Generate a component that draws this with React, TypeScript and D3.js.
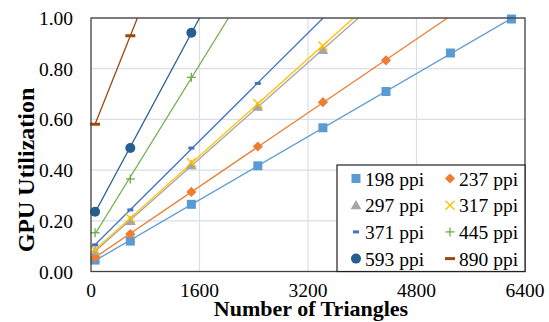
import React from "react";
import * as d3 from "d3";

// x positions (number of triangles)
const triangles = [60, 580, 1480, 2460, 3420, 4350, 5300, 6200];

const series = [
  { name: "198 ppi", color: "#5B9BD5", marker: "square", values: [0.045, 0.12, 0.265, 0.417, 0.567, 0.71, 0.862, 0.996] },
  { name: "237 ppi", color: "#ED7D31", marker: "diamond", values: [0.056, 0.148, 0.314, 0.493, 0.668, 0.833] },
  { name: "297 ppi", color: "#A5A5A5", marker: "triangle", values: [0.08, 0.2, 0.42, 0.65, 0.874] },
  { name: "317 ppi", color: "#FFC000", marker: "x", values: [0.085, 0.21, 0.43, 0.662, 0.89] },
  { name: "371 ppi", color: "#4472C4", marker: "dash", values: [0.105, 0.243, 0.487, 0.742] },
  { name: "445 ppi", color: "#70AD47", marker: "plus", values: [0.153, 0.365, 0.766] },
  { name: "593 ppi", color: "#255E91", marker: "circle", values: [0.236, 0.487, 0.942] },
  { name: "890 ppi", color: "#9E480E", marker: "longdash", values: [0.581, 0.93] },
];

const xTicks = [0, 1600, 3200, 4800, 6400];
const yTicks = [0, 0.2, 0.4, 0.6, 0.8, 1.0];

const W = 549;
const H = 322;
const plot = { left: 91, right: 525, top: 18, bottom: 271.5 };
const font = "Liberation Serif, Times New Roman, DejaVu Serif, serif";

const x = d3.scaleLinear().domain([0, 6400]).range([plot.left, plot.right]);
const y = d3.scaleLinear().domain([0, 1]).range([plot.bottom, plot.top]);

function Marker({ type, color, cx, cy }: { type: string; color: string; cx: number; cy: number }) {
  switch (type) {
    case "square":
      return <rect x={cx - 4.5} y={cy - 4.5} width={9} height={9} fill={color} />;
    case "diamond":
      return <rect x={cx - 3.6} y={cy - 3.6} width={7.2} height={7.2} fill={color} transform={`rotate(45 ${cx} ${cy})`} />;
    case "triangle":
      return <path d={d3.symbol(d3.symbolTriangle, 50)()!} transform={`translate(${cx},${cy + 1})`} fill={color} />;
    case "x":
      return (
        <g stroke={color} strokeWidth={1.4}>
          <line x1={cx - 4.5} y1={cy - 4.5} x2={cx + 4.5} y2={cy + 4.5} />
          <line x1={cx - 4.5} y1={cy + 4.5} x2={cx + 4.5} y2={cy - 4.5} />
        </g>
      );
    case "plus":
      return (
        <g stroke={color} strokeWidth={1.3}>
          <line x1={cx - 4.5} y1={cy} x2={cx + 4.5} y2={cy} />
          <line x1={cx} y1={cy - 4.5} x2={cx} y2={cy + 4.5} />
        </g>
      );
    case "dash":
      return <rect x={cx - 3} y={cy - 1.5} width={6} height={3} fill={color} />;
    case "longdash":
      return <rect x={cx - 5} y={cy - 1.5} width={10} height={3} fill={color} />;
    case "circle":
      return <circle cx={cx} cy={cy} r={5} fill={color} />;
    default:
      return null;
  }
}

// least-squares trendline, drawn from the first point up to where it reaches 1.0
function trend(vals: number[]) {
  const xs = triangles.slice(0, vals.length);
  const mx = d3.mean(xs)!;
  const my = d3.mean(vals)!;
  const slope = d3.sum(xs, (v, i) => (v - mx) * (vals[i] - my)) / d3.sum(xs, (v) => (v - mx) ** 2);
  const b = my - slope * mx;
  const x0 = xs[0];
  const x1 = Math.min(Math.max((1 - b) / slope, xs[xs.length - 1]), 6400);
  return [
    [x(x0), y(slope * x0 + b)],
    [x(x1), y(Math.min(1, slope * x1 + b))],
  ];
}

export default function App() {
  const legendX = 337;
  const legendY = 165;
  const rowH = 26.7;
  const tf = { fontFamily: font };
  return (
    <svg width={W} height={H} style={{ position: "absolute", left: 0, top: 0 }}>
      <rect width={W} height={H} fill="#fff" />
      {/* gridlines */}
      {yTicks.slice(1).map((t) => (
        <line key={"gy" + t} x1={plot.left} x2={plot.right} y1={y(t)} y2={y(t)} stroke="#D9DEE8" strokeWidth={1.2} />
      ))}
      {xTicks.slice(1, -1).map((t) => (
        <line key={"gx" + t} x1={x(t)} x2={x(t)} y1={plot.top} y2={plot.bottom} stroke="#D9DEE8" strokeWidth={1.2} />
      ))}
      {/* lines */}
      <g>
        {series.map((s) => (
          <path key={s.name} d={d3.line()(trend(s.values) as [number, number][])!} stroke={s.color} strokeWidth={1.3} fill="none" />
        ))}
      </g>
      {/* markers */}
      {series.map((s) => (
        <g key={s.name + "m"}>
          {s.values.map((v, i) => (
            <Marker key={i} type={s.marker} color={s.color} cx={x(triangles[i])} cy={y(v)} />
          ))}
        </g>
      ))}
      {/* frame */}
      <rect x={plot.left} y={plot.top} width={plot.right - plot.left} height={plot.bottom - plot.top} fill="none" stroke="#404040" strokeWidth={1.3} />
      {/* y ticks */}
      {yTicks.map((t) => (
        <text key={"ty" + t} x={73} y={y(t) + 7} textAnchor="end" fontSize={19.5} style={tf}>
          {d3.format(".2f")(t)}
        </text>
      ))}
      {xTicks.map((t) => (
        <text key={"tx" + t} x={x(t)} y={297} textAnchor="middle" fontSize={19.5} style={tf}>
          {t}
        </text>
      ))}
      {/* axis titles */}
      <text x={(plot.left + plot.right) / 2 + 3} y={316} textAnchor="middle" fontSize={22} fontWeight="bold" style={tf}>
        Number of Triangles
      </text>
      <text transform="translate(34,170) rotate(-90)" textAnchor="middle" fontSize={24} fontWeight="bold" style={tf}>
        GPU Utilization
      </text>
      {/* legend */}
      <rect x={legendX} y={legendY} width={plot.right - legendX} height={plot.bottom - legendY} fill="#fff" stroke="#202020" strokeWidth={1.2} />
      {series.map((s, i) => {
        const col = i % 2;
        const row = Math.floor(i / 2);
        const mx = legendX + 19 + col * 94;
        const my = legendY + 13.5 + row * rowH;
        return (
          <g key={s.name + "l"}>
            <Marker type={s.marker} color={s.color} cx={mx} cy={my} />
            <text x={mx + 9} y={my + 7} fontSize={19.5} style={tf}>
              {s.name}
            </text>
          </g>
        );
      })}
    </svg>
  );
}
